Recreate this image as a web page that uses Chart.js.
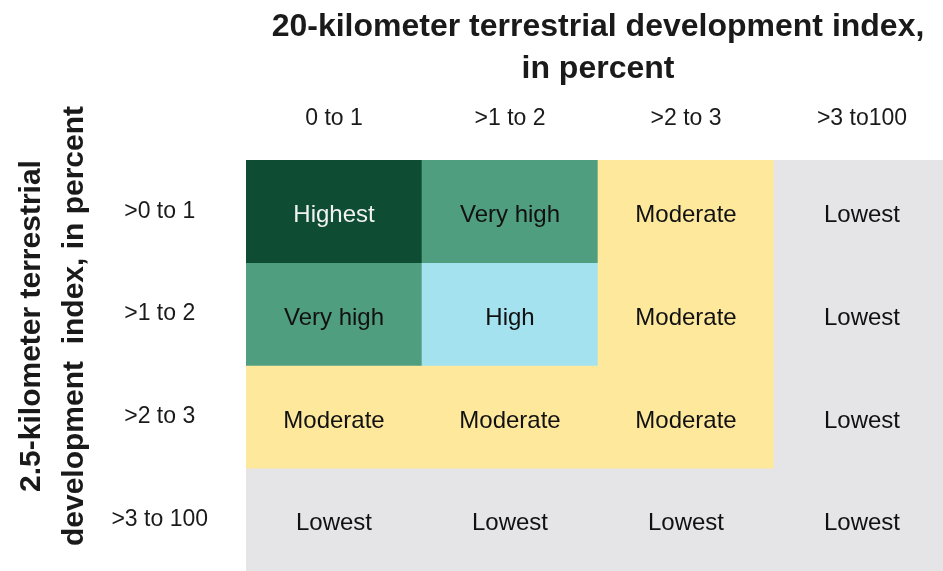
<!DOCTYPE html>
<html>
<head>
<meta charset="utf-8">
<script src="https://cdn.jsdelivr.net/npm/chart.js@4/dist/chart.umd.min.js"></script>
<style>
html, body { margin: 0; padding: 0; background: #ffffff; overflow: hidden; width: 943px; height: 571px; }
#wrap { position: relative; width: 950px; height: 571px; }
canvas { display: block; }
</style>
</head>
<body>
<div id="wrap"><canvas id="c"></canvas></div>
<script>
// ---- data ----
const columnLabels = ['0 to 1', '>1 to 2', '>2 to 3', '>3 to100'];
const rowLabels = ['>0 to 1', '>1 to 2', '>2 to 3', '>3 to 100'];
const xTitle = ['20-kilometer terrestrial development index,', 'in percent'];
const yTitle = ['2.5-kilometer terrestrial', 'development  index, in percent'];
const row1Classes = ['Highest', 'Very high', 'Moderate', 'Lowest'];
const row2Classes = ['Very high', 'High', 'Moderate', 'Lowest'];
const row3Classes = ['Moderate', 'Moderate', 'Moderate', 'Lowest'];
const row4Classes = ['Lowest', 'Lowest', 'Lowest', 'Lowest'];
const rowClasses = [row1Classes, row2Classes, row3Classes, row4Classes];

// ---- styles ----
const classColors = {
  'Highest': 'rgb(14,77,52)',
  'Very high': 'rgb(80,158,128)',
  'High': 'rgb(163,226,238)',
  'Moderate': 'rgb(253,232,156)',
  'Lowest': 'rgb(229,229,231)'
};
const classTextColors = {
  'Highest': '#f2f2f2',
  'Very high': '#111111',
  'High': '#111111',
  'Moderate': '#111111',
  'Lowest': '#111111'
};
const FONT = '"Liberation Sans", Arial, Helvetica, sans-serif';

const datasets = rowClasses.map((classes, r) => ({
  label: rowLabels[r],
  classes: classes,
  data: classes.map(() => 1),          // each cell spans one row band
  backgroundColor: classes.map(c => classColors[c]),
  borderWidth: 0,
  categoryPercentage: 1.0,
  barPercentage: 1.0,
  stack: 'grid'
}));

const cellLabels = {
  id: 'cellLabels',
  afterDatasetsDraw(chart) {
    const ctx = chart.ctx;
    chart.data.datasets.forEach((ds, di) => {
      const meta = chart.getDatasetMeta(di);
      meta.data.forEach((bar, i) => {
        const p = bar.getProps(['x', 'y', 'base'], true);
        const cy = (p.y + p.base) / 2;
        ctx.save();
        ctx.font = '24px ' + FONT;
        ctx.fillStyle = classTextColors[ds.classes[i]];
        ctx.textAlign = 'center';
        ctx.textBaseline = 'middle';
        ctx.fillText(ds.classes[i], p.x, cy + 4);
        ctx.restore();
      });
    });
  }
};

const yAxisTitle = {
  id: 'yAxisTitle',
  afterDraw(chart) {
    const ctx = chart.ctx;
    const baselines = [40, 83];
    ctx.save();
    ctx.font = 'bold 30px ' + FONT;
    ctx.fillStyle = '#1a1a1a';
    ctx.textAlign = 'center';
    ctx.textBaseline = 'alphabetic';
    yTitle.forEach((line, i) => {
      ctx.save();
      ctx.translate(baselines[i], 326);
      ctx.rotate(-Math.PI / 2);
      ctx.fillText(line, 0, 0);
      ctx.restore();
    });
    ctx.restore();
  }
};

new Chart(document.getElementById('c'), {
  type: 'bar',
  data: { labels: columnLabels, datasets: datasets },
  plugins: [cellLabels, yAxisTitle],
  options: {
    responsive: true,
    maintainAspectRatio: false,
    devicePixelRatio: 1,
    animation: false,
    layout: { padding: 0 },
    plugins: { legend: { display: false }, tooltip: { enabled: false } },
    scales: {
      x: {
        type: 'category',
        position: 'top',
        stacked: true,
        offset: true,
        grid: { display: false, drawTicks: false },
        border: { display: false },
        ticks: { color: '#1a1a1a', font: { family: FONT, size: 23 }, padding: 28, maxRotation: 0 },
        title: {
          display: true,
          text: xTitle,
          color: '#1a1a1a',
          font: { family: FONT, size: 32, weight: 'bold', lineHeight: 1.31 },
          padding: { top: 6, bottom: 0 }
        },
        afterFit(s) { s.height = 160; s.paddingLeft = 0; s.paddingRight = 0; }
      },
      y: {
        type: 'linear',
        stacked: true,
        reverse: true,
        min: 0,
        max: 4,
        grid: { display: false, drawTicks: false },
        border: { display: false },
        afterBuildTicks(s) { s.ticks = rowLabels.map((_, i) => ({ value: i + 0.5 })); },
        ticks: {
          color: '#1a1a1a',
          font: { family: FONT, size: 23 },
          crossAlign: 'center',
          padding: 38,
          callback: (v, i) => rowLabels[i]
        },
        title: { display: false },
        afterFit(s) { s.width = 246; s.paddingTop = 0; s.paddingBottom = 0; }
      }
    }
  }
});
</script>
</body>
</html>
